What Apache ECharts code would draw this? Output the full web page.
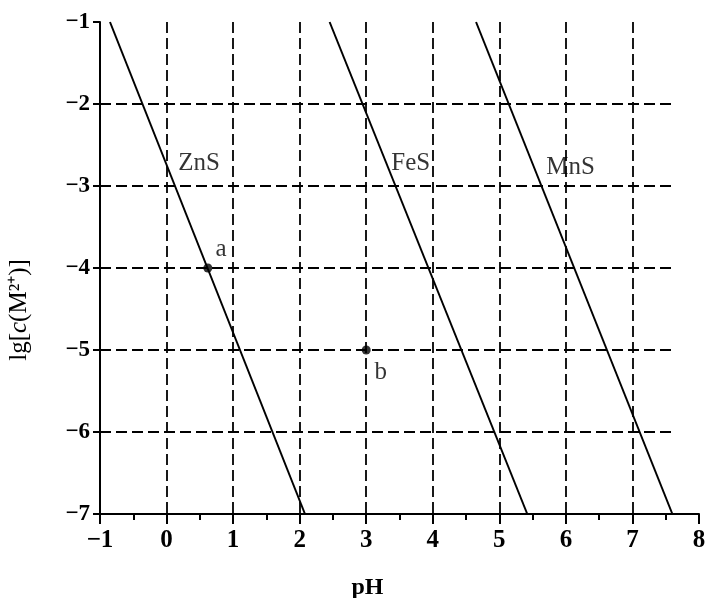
<!DOCTYPE html>
<html>
<head>
<meta charset="utf-8">
<script src="https://cdn.jsdelivr.net/npm/echarts@6/dist/echarts.min.js"></script>
<style>
    html, body { margin: 0; padding: 0; background: #fff; }
    #graph { width: 707px; height: 598px; }
</style>
</head>
<body>
<div id="graph"></div>
<script>
// 直线端点 [pH, lg c]
var znsLine = [[-0.85, -1], [2.08, -7]];
var fesLine = [[2.45, -1], [5.42, -7]];
var mnsLine = [[4.65, -1], [7.6, -7]];
// 点 a、b
var points = [[0.62, -4], [3, -5]];
// 文字标注 [x, y, text]
var textLabels = [
    [0.49, -2.72, "ZnS"],
    [3.67, -2.72, "FeS"],
    [6.07, -2.77, "MnS"],
    [0.82, -3.77, "a"],
    [3.22, -5.27, "b"]
];
// 水平虚线
var gridLevels = [-2, -3, -4, -5, -6];
var gridRightEnd = 7.6;

var serif = "'Liberation Serif', 'Times New Roman', serif";
var ink = "#000";

function minus(v) {
    return v < 0 ? "\u2212" + Math.abs(v) : String(v);
}

var chart = echarts.init(document.getElementById("graph"));

var dashStyle = { color: ink, width: 1.8, type: [11, 5] };

var option = {
    backgroundColor: "#fff",
    animation: false,
    grid: { left: 100, right: 8, top: 22, bottom: 84, outerBoundsMode: "none", containLabel: false },
    xAxis: {
        type: "value",
        min: -1,
        max: 8,
        interval: 1,
        name: "pH",
        nameLocation: "middle",
        nameGap: 62,
        nameTextStyle: {
            fontFamily: serif,
            fontSize: 24,
            fontWeight: "bold",
            color: ink,
            padding: [0, 64, 0, 0]
        },
        axisLine: { onZero: false, lineStyle: { color: ink, width: 2 } },
        axisTick: { length: 10, lineStyle: { color: ink, width: 2 } },
        minorTick: { show: true, splitNumber: 2, length: 6, lineStyle: { color: ink, width: 2 } },
        axisLabel: {
            fontFamily: serif,
            fontSize: 25,
            fontWeight: "bold",
            color: ink,
            margin: 14,
            formatter: minus
        },
        splitLine: {
            show: true,
            showMinLine: false,
            showMaxLine: false,
            lineStyle: dashStyle
        }
    },
    yAxis: {
        type: "value",
        min: -7,
        max: -1,
        interval: 1,
        name: "lg[{i|c}(M²⁺)]",
        nameLocation: "middle",
        nameRotate: 90,
        nameGap: 68,
        nameTextStyle: {
            fontFamily: serif,
            fontSize: 25,
            color: ink,
            padding: [0, 84, 0, 0],
            rich: {
                i: { fontFamily: serif, fontSize: 25, fontStyle: "italic", color: ink }
            }
        },
        axisLine: { show: true, onZero: false, lineStyle: { color: ink, width: 2 } },
        axisTick: { show: true, length: 7, lineStyle: { color: ink, width: 2 } },
        axisLabel: {
            fontFamily: serif,
            fontSize: 23,
            fontWeight: "bold",
            color: ink,
            margin: 10,
            formatter: minus
        },
        splitLine: { show: false }
    },
    series: [
        {
            name: "grid",
            type: "line",
            data: [],
            silent: true,
            markLine: {
                silent: true,
                symbol: "none",
                label: { show: false },
                lineStyle: dashStyle,
                animation: false,
                data: gridLevels.map(function(v) {
                    return [{ coord: [-1, v] }, { coord: [gridRightEnd, v] }];
                })
            }
        },
        {
            name: "ZnS",
            type: "line",
            data: znsLine,
            symbol: "none",
            lineStyle: { color: ink, width: 2 }
        },
        {
            name: "FeS",
            type: "line",
            data: fesLine,
            symbol: "none",
            lineStyle: { color: ink, width: 2 }
        },
        {
            name: "MnS",
            type: "line",
            data: mnsLine,
            symbol: "none",
            lineStyle: { color: ink, width: 2 }
        },
        {
            name: "points",
            type: "scatter",
            data: points,
            symbolSize: 9,
            itemStyle: { color: ink }
        },
        {
            name: "labels",
            type: "scatter",
            data: textLabels,
            symbolSize: 0,
            silent: true,
            label: {
                show: true,
                position: "inside",
                fontFamily: serif,
                fontSize: 25,
                color: ink,
                formatter: function(p) {
                    return p.data[2];
                }
            }
        }
    ]
};

chart.setOption(option);
</script>
</body>
</html>
